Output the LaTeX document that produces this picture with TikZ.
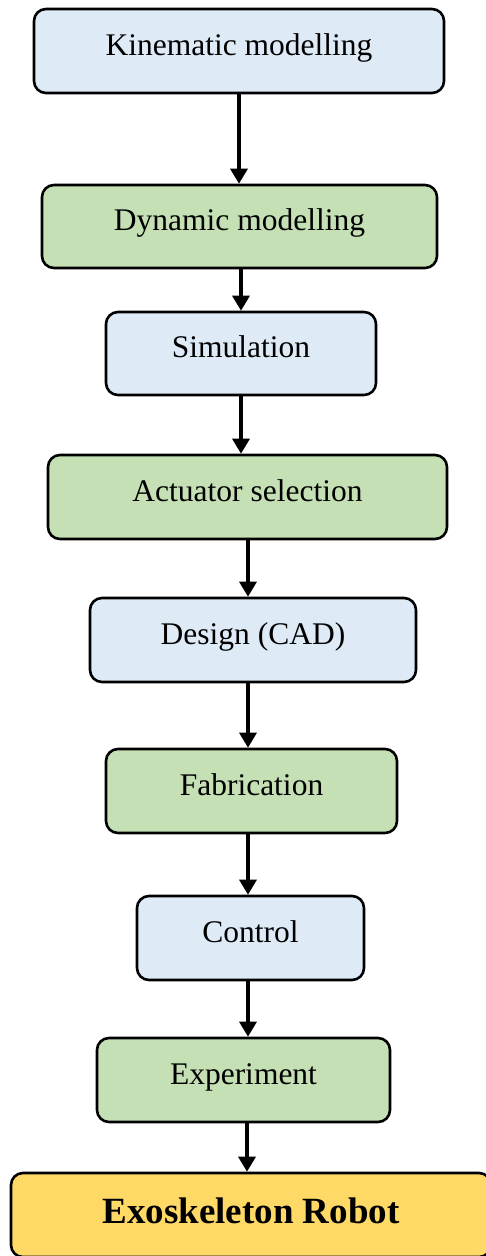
\documentclass[tikz,border=0pt]{standalone}
\usepackage{fontspec}
\setmainfont{Liberation Serif}
\usetikzlibrary{arrows.meta}
\definecolor{boxblue}{HTML}{DEEBF7}
\definecolor{boxgreen}{HTML}{C5E0B4}
\definecolor{boxgold}{HTML}{FFD966}
\tikzset{
  stepbox/.style={draw=black, line width=2.6pt, rounded corners=12pt, inner sep=0pt,
    font=\fontsize{31.5}{36}\selectfont, text height=22pt, text depth=14pt},
  bluebox/.style={stepbox, fill=boxblue},
  greenbox/.style={stepbox, fill=boxgreen},
  goldbox/.style={stepbox, fill=boxgold, font=\fontsize{37}{42}\selectfont\bfseries, text height=26pt, text depth=10pt},
  arr/.style={line width=3.2pt, -{Triangle[length=15pt,width=17pt]}}
}
\begin{document}
\begin{tikzpicture}[x=1pt,y=-1pt]
\useasboundingbox (0,0) rectangle (486,1256);
\node[bluebox,  minimum width=410pt, minimum height=84pt] (kin) at (239,51) {Kinematic modelling};
\node[greenbox, minimum width=395pt, minimum height=83pt] (dyn) at (239.5,226.5) {Dynamic modelling};
\node[bluebox,  minimum width=270pt, minimum height=83pt] (sim) at (241,353.5) {Simulation};
\node[greenbox, minimum width=399pt, minimum height=84pt] (act) at (247.5,497) {Actuator selection};
\node[bluebox,  minimum width=326pt, minimum height=84pt] (cad) at (253,640) {Design (CAD)};
\node[greenbox, minimum width=291pt, minimum height=84pt] (fab) at (251.5,791) {Fabrication};
\node[bluebox,  minimum width=227pt, minimum height=84pt] (con) at (250.5,938) {Control};
\node[greenbox, minimum width=293pt, minimum height=84pt] (exp) at (243.5,1080) {Experiment};
\node[goldbox,  minimum width=480pt, minimum height=84pt] (exo) at (251,1215) {Exoskeleton Robot};
\draw[arr] (kin.south -| 239,0) -- (dyn.north -| 239,0);
\draw[arr] (dyn.south -| 241,0) -- (sim.north -| 241,0);
\draw[arr] (sim.south -| 241,0) -- (act.north -| 241,0);
\draw[arr] (act.south -| 248,0) -- (cad.north -| 248,0);
\draw[arr] (cad.south -| 248,0) -- (fab.north -| 248,0);
\draw[arr] (fab.south -| 248,0) -- (con.north -| 248,0);
\draw[arr] (con.south -| 248,0) -- (exp.north -| 248,0);
\draw[arr] (exp.south -| 247,0) -- (exo.north -| 247,0);
\end{tikzpicture}
\end{document}
